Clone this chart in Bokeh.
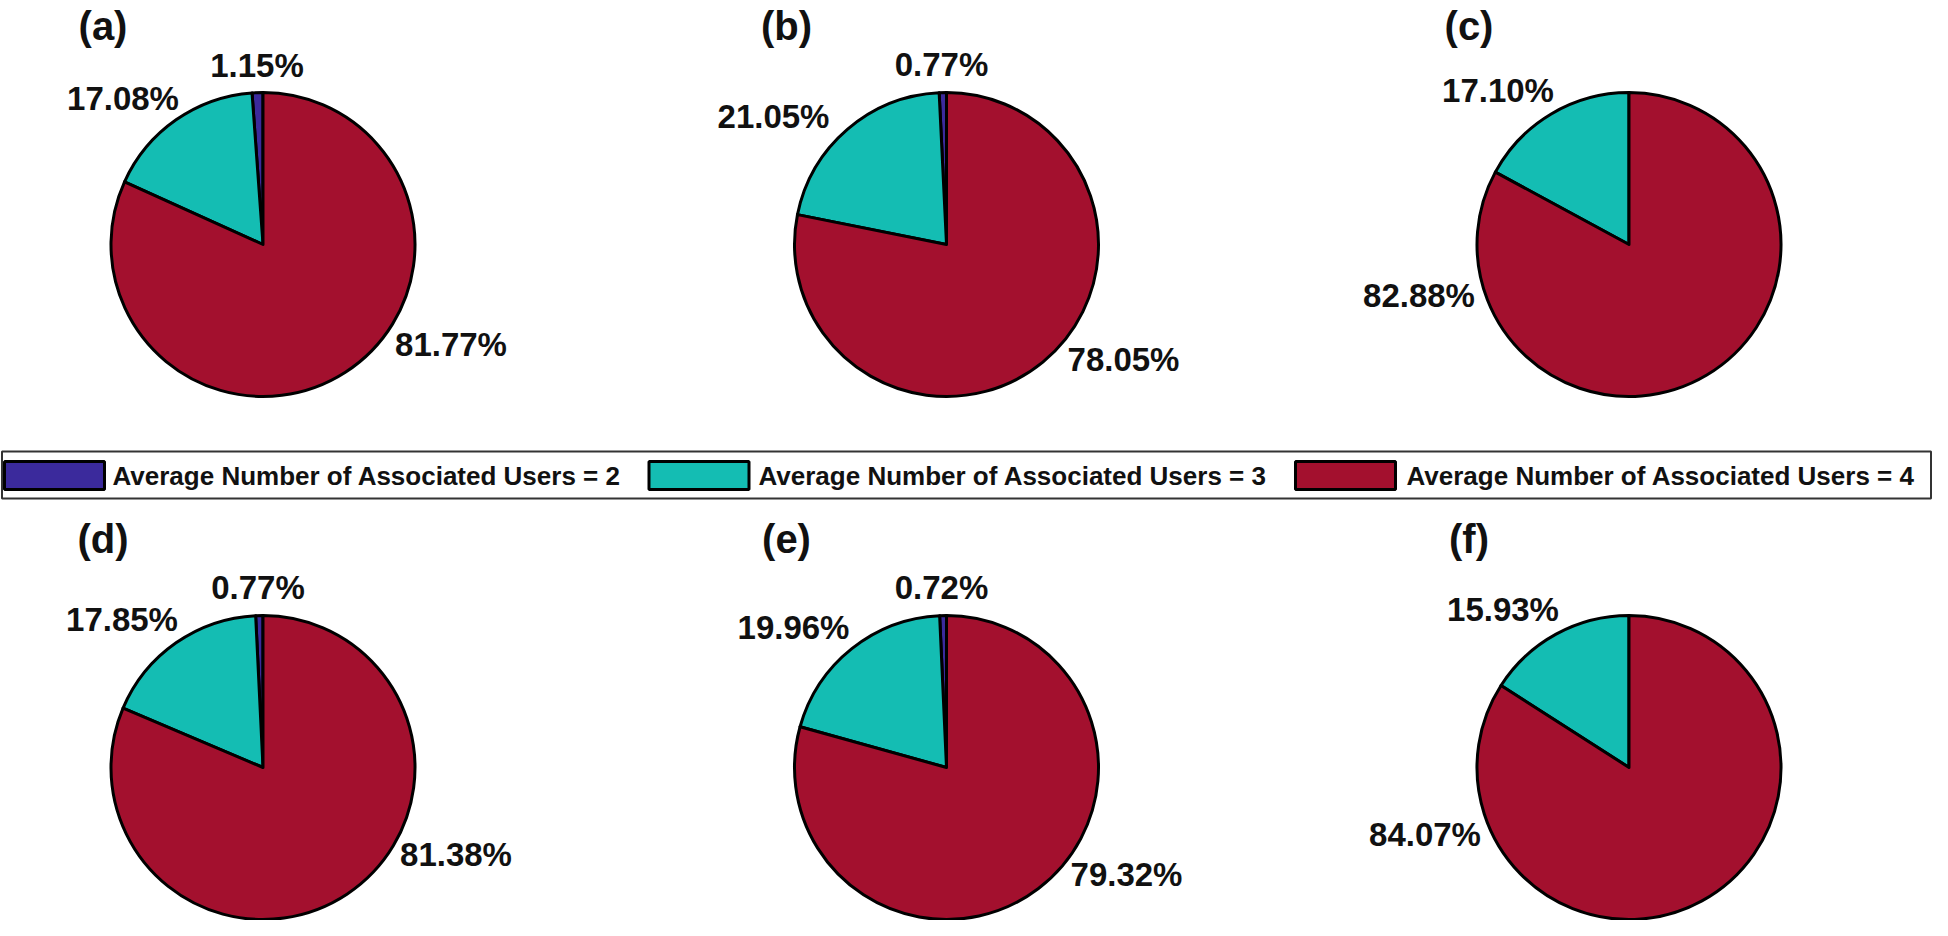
import math
from bokeh.plotting import figure
from bokeh.models import Range1d
from bokeh.core.properties import value
from bokeh.embed import file_html
from bokeh.resources import INLINE

# ---------------- data ----------------
categories = [
    "Average Number of Associated Users = 2",
    "Average Number of Associated Users = 3",
    "Average Number of Associated Users = 4",
]
panel_names = ["(a)", "(b)", "(c)", "(d)", "(e)", "(f)"]
share_a = [1.15, 17.08, 81.77]
share_b = [0.77, 21.05, 78.05]
share_c = [0.0, 17.10, 82.88]
share_d = [0.77, 17.85, 81.38]
share_e = [0.72, 19.96, 79.32]
share_f = [0.0, 15.93, 84.07]
panels = [share_a, share_b, share_c, share_d, share_e, share_f]

# ---------------- styles / layout ----------------
colors = ["#3b2a9c", "#14bdb3", "#a3102e"]
FONT = "Liberation Sans"
W, H = 1932, 920
col_x = [270.5, 954, 1636.5]
row_y = [252, 775]
R = 152
title_dx = -160
title_top = [11, 524]
# label anchor offsets (px, from pie centre, +y downwards), per panel per slice
label_off = [
    [(-6, -179), (-140, -146), (188, 100)],
    [(-5, -180), (-173, -128), (177, 115)],
    [None, (-131, -154), (-210, 51)],
    [(-5, -180), (-141, -148), (193, 87)],
    [(-5, -180), (-153, -140), (180, 107)],
    [None, (-126, -158), (-204, 67)],
]

p = figure(width=W, height=H, output_backend="svg", toolbar_location=None,
           x_range=Range1d(8, 8 + W), y_range=Range1d(-(8 + H), -8),
           min_border=0)
p.axis.visible = False
p.grid.visible = False
p.outline_line_color = None
p.background_fill_color = "white"
p.border_fill_color = "white"

for k, shares in enumerate(panels):
    cx = col_x[k % 3]
    cy = row_y[k // 3]
    total = sum(shares)
    ang = math.pi / 2
    for j, v in enumerate(shares):
        if v <= 0:
            continue
        a1 = ang + 2 * math.pi * v / total
        p.wedge(x=[cx], y=[-cy], radius=R, start_angle=[ang], end_angle=[a1],
                fill_color=colors[j], line_color="black", line_width=3,
                line_join="round")
        ang = a1
        off = label_off[k][j]
        if off is not None:
            p.text(x=[cx + off[0]], y=[-(cy + off[1])], text=[f"{v:.2f}%"],
                   text_font=value(FONT), text_font_style="bold",
                   text_font_size="33px", text_align="center",
                   text_baseline="middle", text_color="#111111")
    p.text(x=[cx + title_dx], y=[-title_top[k // 3]], text=[panel_names[k]],
           text_font=value(FONT), text_font_style="bold",
           text_font_size="40px", text_align="center",
           text_baseline="top", text_color="#111111")

# ---------------- legend ----------------
box_l, box_r, box_t, box_b = 9.5, 1938.5, 459, 506
p.quad(left=[box_l], right=[box_r], top=[-box_t], bottom=[-box_b],
       fill_color="white", line_color="#333333", line_width=2)
sw_x = [12, 656.5, 1303]
tx_x = [120, 766, 1414]
sw_w = 100
for j, name in enumerate(categories):
    p.quad(left=[sw_x[j]], right=[sw_x[j] + sw_w], top=[-469], bottom=[-497],
           fill_color=colors[j], line_color="black", line_width=3)
    p.text(x=[tx_x[j]], y=[-483], text=[name], text_font=value(FONT),
           text_font_style="bold", text_font_size="26px", text_align="left",
           text_baseline="middle", text_color="#111111")

open("out.html", "w").write(file_html(p, INLINE))
